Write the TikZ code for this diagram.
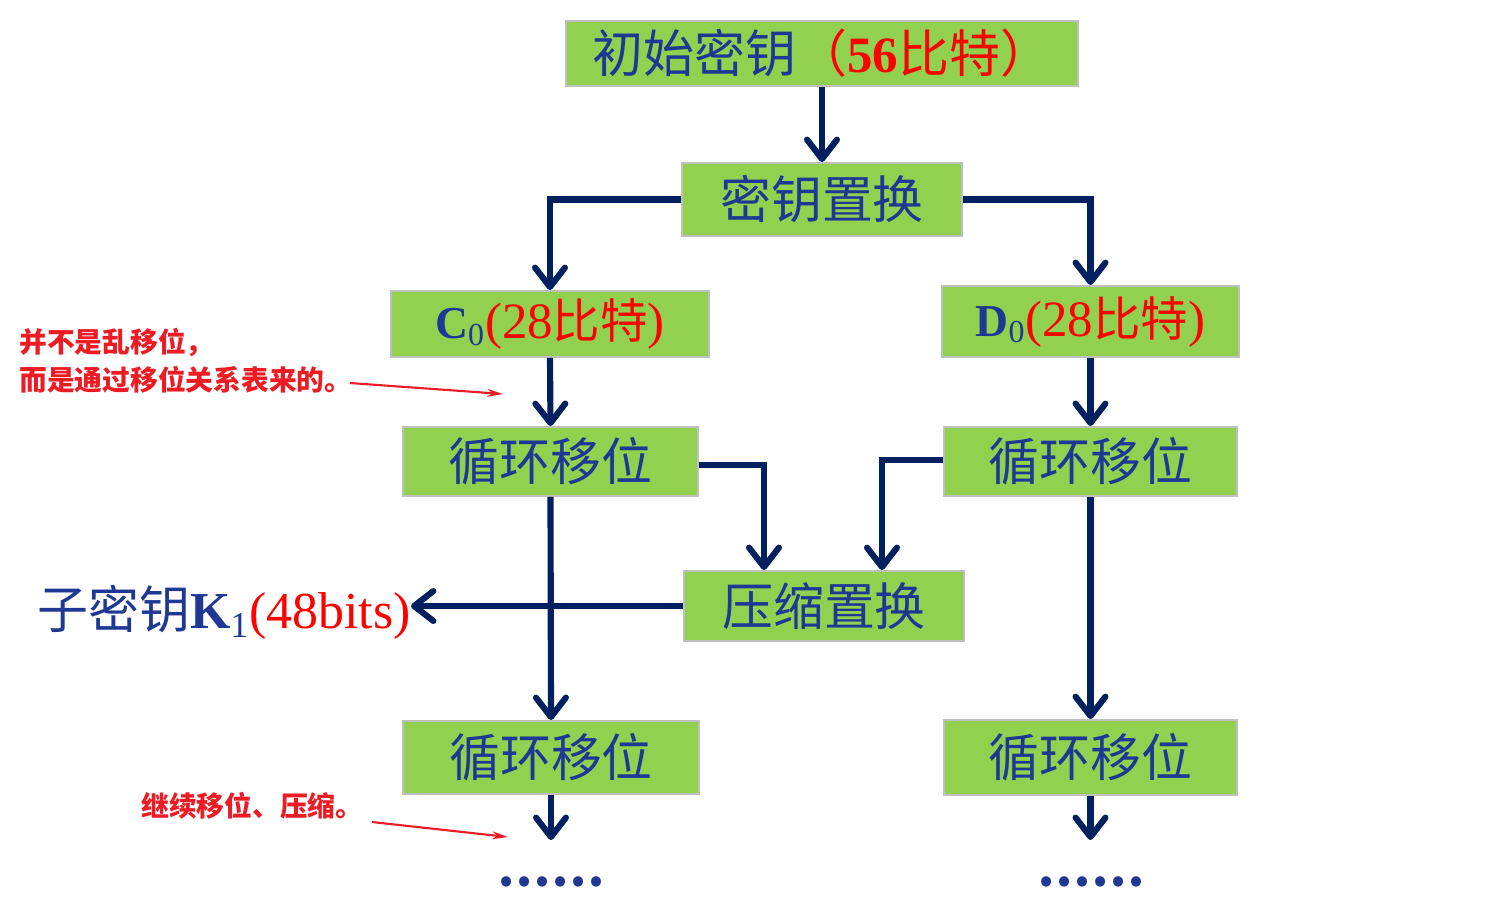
\documentclass[tikz,border=0pt]{standalone}
\usepackage{fontspec}
\setmainfont{Liberation Serif}
\newfontfamily\cjk{Noto Sans CJK SC}
\usetikzlibrary{arrows.meta,calc}
\definecolor{boxgreen}{RGB}{146,208,80}
\definecolor{boxgray}{RGB}{191,191,191}
\definecolor{txtblue}{RGB}{31,56,148}
\definecolor{navy}{RGB}{0,32,96}
\definecolor{notered}{RGB}{237,28,36}
\begin{document}
\begin{tikzpicture}[x=0.02cm,y=-0.02cm,
  box/.style={draw=boxgray,line width=1.1pt,fill=boxgreen,inner sep=0pt,text=txtblue,font=\cjk\fontsize{29}{34}\selectfont},
  arr/.style={draw=navy,line width=3.5pt,-{Straight Barb[length=11pt,width=17pt,round]}},
  redarr/.style={draw=notered,line width=1.2pt,-{Stealth[length=9pt,width=4.5pt]}},
  note/.style={text=notered,font=\cjk\bfseries\fontsize{15.8}{21.5}\selectfont,align=left,inner sep=0pt},
  dots/.style={text=txtblue,font=\cjk\bfseries\fontsize{27}{27}\selectfont,inner sep=0pt},
  ]
\useasboundingbox (0,0) rectangle (1512,897);

\node[box,minimum width=10.24cm,minimum height=1.3cm] (top) at (822,53.5)
  {初始密钥{\color{red}（{\rmfamily\bfseries 56}比特）}};
\node[box,minimum width=5.6cm,minimum height=1.46cm] (mz) at (822,199.5) {密钥置换};
\node[box,minimum width=6.36cm,minimum height=1.32cm] (c0) at (550,324)
  {{\rmfamily\bfseries\fontsize{26}{30}\selectfont C{\mdseries\textsubscript{0}}}{\color{red}{\rmfamily (28}\fontsize{27}{30}\selectfont 比特{\rmfamily\fontsize{29}{30}\selectfont )}}};
\node[box,minimum width=5.94cm,minimum height=1.42cm] (d0) at (1090.5,321.5)
  {{\rmfamily\bfseries\fontsize{26}{30}\selectfont D{\mdseries\textsubscript{0}}}{\color{red}{\rmfamily (28}\fontsize{27}{30}\selectfont 比特{\rmfamily\fontsize{29}{30}\selectfont )}}};
\node[box,minimum width=5.9cm,minimum height=1.38cm] (l1) at (550.5,461.5) {循环移位};
\node[box,minimum width=5.86cm,minimum height=1.38cm] (r1) at (1090.5,461.5) {循环移位};
\node[box,minimum width=5.6cm,minimum height=1.4cm] (ys) at (824,606) {压缩置换};
\node[box,minimum width=5.92cm,minimum height=1.46cm] (l2) at (551,757.5) {循环移位};
\node[box,minimum width=5.86cm,minimum height=1.5cm] (r2) at (1090.5,757.5) {循环移位};

\node[anchor=east,inner sep=0pt,text=txtblue,font=\cjk\fontsize{29}{34}\selectfont] (k1) at (411,612)
  {子密钥{\rmfamily\bfseries\fontsize{29.5}{30}\selectfont K{\mdseries\textsubscript{1}}}{\color{red}\rmfamily\fontsize{29.5}{30}\selectfont (48bits)}};

\node[dots] (dl) at (551,882) {……};
\node[dots] (dr) at (1091,882) {……};

\node[note,anchor=north west] (n1) at (19,328) {并不是乱移位，\\而是通过移位关系表来的。};
\node[note,anchor=west] (n2) at (141,806) {继续移位、压缩。};

\coordinate (le) at (551,840);
\coordinate (re) at (1090.5,840);
\coordinate (a1s) at (350,383);
\coordinate (a1e) at (503,394);
\coordinate (a2s) at (372,822);
\coordinate (a2e) at (508,837);

\draw[arr] (top.south) -- (mz.north);
\draw[arr] (mz.west) -| (c0.north);
\draw[arr] (mz.east) -| (d0.north);
\draw[arr] (c0.south) -- (l1.north);
\draw[arr] (d0.south) -- (r1.north);
\draw[arr] ([yshift=-3.5*0.02cm]l1.east) -| ($(ys.north)+(-60,0)$);
\draw[arr] ([yshift=1.5*0.02cm]r1.west) -| ($(ys.north)+(58,0)$);
\draw[arr] (l1.south) -- (l2.north);
\draw[arr] (ys.west) -- (ys.west -| k1.east);
\draw[arr] (r1.south) -- (r2.north);
\draw[arr] (l2.south) -- (le);
\draw[arr] (r2.south) -- (re);

\draw[redarr] (a1s) -- (a1e);
\draw[redarr] (a2s) -- (a2e);
\end{tikzpicture}
\end{document}
